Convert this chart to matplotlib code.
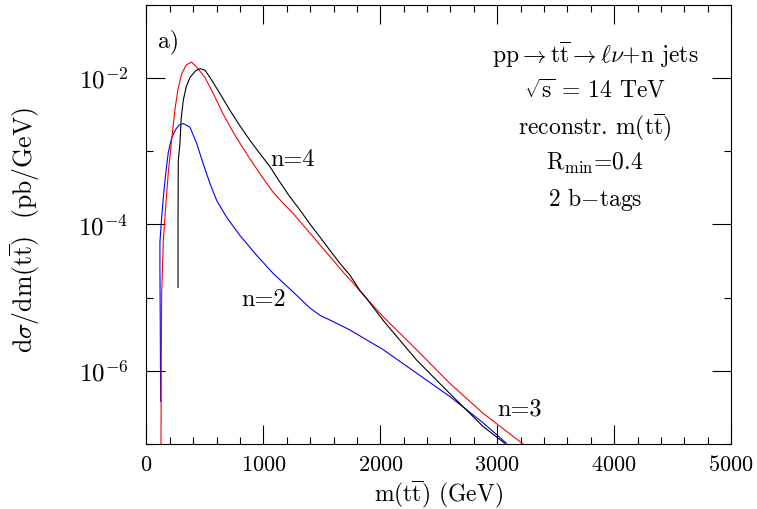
import numpy as np
import matplotlib
matplotlib.use("Agg")
import matplotlib.pyplot as plt
from matplotlib.ticker import MultipleLocator, NullFormatter

plt.rcParams['font.family'] = 'serif'
plt.rcParams['font.serif'] = ['cmr10', 'DejaVu Serif']
plt.rcParams['mathtext.fontset'] = 'cm'
plt.rcParams['axes.formatter.use_mathtext'] = True

# n=2 (blue): m(tt) in GeV, log10 of dsigma/dm
mass_n2 = [121, 118, 115, 115, 130, 147, 165, 186, 215, 250, 280, 315, 372, 429, 485,
           543, 600, 685, 799, 942, 1084, 1226, 1312, 1397, 1483, 1600, 1739, 2024,
           2309, 2594, 2879, 3079]
logxs_n2 = [-6.42, -5.4, -4.6, -4.24, -3.90, -3.58, -3.30, -3.02, -2.82, -2.70, -2.64,
            -2.62, -2.67, -2.89, -3.17, -3.44, -3.67, -3.90, -4.15, -4.42, -4.67, -4.88,
            -5.01, -5.14, -5.24, -5.33, -5.44, -5.71, -6.03, -6.35, -6.71, -6.99]

# n=3 (red)
mass_n3 = [124, 126, 130, 144, 167, 186, 215, 244, 270, 301, 340, 386, 429, 500, 571,
           656, 742, 827, 913, 998, 1084, 1169, 1255, 1340, 1426, 1511, 1597, 1682,
           1768, 1853, 2024, 2309, 2594, 2879, 3221]
logxs_n3 = [-7.0, -6.0, -4.94, -4.22, -3.70, -3.30, -2.85, -2.42, -2.15, -1.94, -1.82,
            -1.78, -1.85, -1.99, -2.21, -2.49, -2.74, -2.96, -3.17, -3.37, -3.56, -3.71,
            -3.85, -4.01, -4.17, -4.33, -4.49, -4.65, -4.80, -4.96, -5.26, -5.71, -6.17,
            -6.58, -7.0]

# n=4 (black)
mass_n4 = [270, 270, 272, 286, 297, 315, 340, 372, 420, 457, 500, 543, 628, 714, 799,
           885, 970, 1056, 1141, 1226, 1312, 1397, 1483, 1568, 1654, 1739, 1825, 1882,
           2024, 2309, 2594, 2879, 3064]
logxs_n4 = [-4.86, -3.9, -3.12, -2.90, -2.55, -2.30, -2.12, -1.99, -1.90, -1.87, -1.89,
            -1.99, -2.21, -2.44, -2.65, -2.85, -3.03, -3.21, -3.42, -3.62, -3.80, -3.99,
            -4.17, -4.35, -4.53, -4.69, -4.90, -5.01, -5.31, -5.85, -6.31, -6.76, -6.99]

y_major = [1e-2, 1e-4, 1e-6]
y_minor = [1e-1, 1e-3, 1e-5, 1e-7]

fig = plt.figure(figsize=(7.57, 5.09), dpi=100)
ax = fig.add_axes([0.1935, 0.1277, 0.7722, 0.8625])

ax.plot(mass_n2, 10.0 ** np.array(logxs_n2), color='#0000ff', lw=0.8)
ax.plot(mass_n3, 10.0 ** np.array(logxs_n3), color='#ff0000', lw=0.8)
ax.plot(mass_n4, 10.0 ** np.array(logxs_n4), color='black', lw=0.8)

ax.set_yscale('log')
ax.set_xlim(0, 5000)
ax.set_ylim(1e-7, 1e-1)
ax.set_yticks(y_major)
ax.set_yticks(y_minor, minor=True)
ax.yaxis.set_minor_formatter(NullFormatter())
ax.xaxis.set_major_locator(MultipleLocator(1000))
ax.xaxis.set_minor_locator(MultipleLocator(200))

ax.tick_params(which='both', direction='in', top=True, right=True, width=0.8)
ax.tick_params(which='major', length=13.5)
ax.tick_params(which='minor', length=4.7)
ax.tick_params(axis='x', which='major', labelsize=16, pad=8)
ax.tick_params(axis='y', which='major', labelsize=18, pad=13)
for s in ax.spines.values():
    s.set_linewidth(0.8)

ax.set_xlabel(r'm$(\mathrm{t}\overline{\mathrm{t}})$ (GeV)', fontsize=17, labelpad=2)
ax.set_ylabel(r'd$\sigma$/dm$(\mathrm{t}\overline{\mathrm{t}})$  (pb/GeV)', fontsize=18.5)
ax.yaxis.set_label_coords(-0.178, 0.487)

ax.text(0.02, 0.916, 'a)', transform=ax.transAxes, fontsize=17, va='center', ha='left')

info = [r'pp$\rightarrow\mathrm{t}\overline{\mathrm{t}}\rightarrow\ell\nu$+n jets',
        r'$\sqrt{\mathrm{s}}$ = 14 TeV',
        r'reconstr. m$(\mathrm{t}\overline{\mathrm{t}})$',
        r'R$_{\mathrm{min}}$=0.4',
        r'2 b$-$tags']
info_y = [0.886, 0.804, 0.722, 0.640, 0.556]
for txt, yy in zip(info, info_y):
    ax.text(0.767, yy, txt, transform=ax.transAxes, fontsize=17, ha='center', va='center')

ax.text(1252, 10 ** -3.12, 'n=4', fontsize=17.5, ha='center', va='center')
ax.text(1004, 10 ** -5.03, 'n=2', fontsize=17.5, ha='center', va='center')
ax.text(3192, 10 ** -6.53, 'n=3', fontsize=17.5, ha='center', va='center')

fig.savefig('out.png', dpi=100)
